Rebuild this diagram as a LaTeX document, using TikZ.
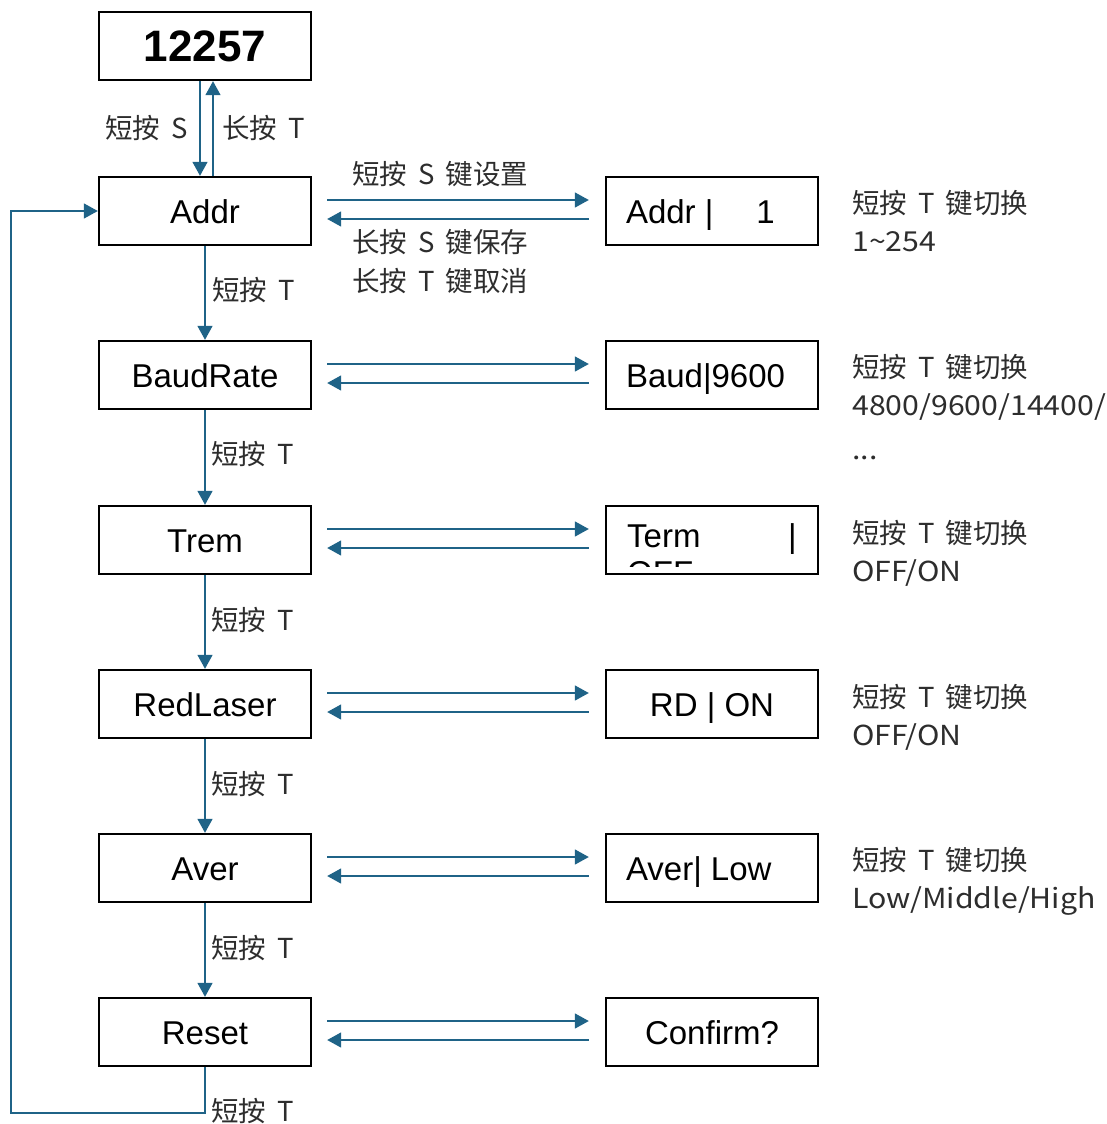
\documentclass[tikz,border=0pt]{standalone}
\usepackage{fontspec}
\setmainfont{Liberation Sans}
\newfontfamily\cjk{Noto Sans CJK SC}[WordSpace=1.8]
\newfontfamily\cjkwide{Noto Sans CJK SC}[FakeStretch=1.1]
\usetikzlibrary{arrows.meta}
\definecolor{flowblue}{RGB}{31,99,135}
\definecolor{labelgray}{RGB}{45,45,45}
\tikzset{
  box/.style={draw=black, line width=2.4pt, minimum width=212pt, minimum height=68pt,
    inner sep=0pt, text height=24pt, text depth=0pt, font=\fontsize{33}{38}\selectfont},
  boxtext/.style={anchor=west, inner sep=0pt, text height=24pt, text depth=0pt,
    font=\fontsize{33}{38}\selectfont},
  flow/.style={draw=flowblue, line width=1.6pt, -{Triangle[length=14pt,width=15pt]}},
  lbl/.style={text=labelgray, font=\cjk\fontsize{27.5}{38}\selectfont, inner sep=0pt},
  note/.style={lbl, anchor=north west, align=left},
}
% second line of an option note, Latin only
\newcommand\optline[1]{{\cjkwide #1}}
\begin{document}
\begin{tikzpicture}[x=1pt,y=-1pt]
\useasboundingbox (0,0) rectangle (1107,1124);

% menu column
\node[box, text height=32pt, font=\fontsize{44}{50}\selectfont\bfseries] (top) at (205,46) {12257};
\node[box] (addr)  at (205,211)  {Addr};
\node[box] (baud)  at (205,375)  {BaudRate};
\node[box] (term)  at (205,540)  {Trem};
\node[box] (laser) at (205,704)  {RedLaser};
\node[box] (aver)  at (205,868)  {Aver};
\node[box] (reset) at (205,1032) {Reset};

% value column
\node[box] (vaddr)  at (712,211)  {};
\node[box] (vbaud)  at (712,375)  {};
\node[box] (vterm)  at (712,540)  {};
\node[box] (vlaser) at (712,704)  {RD | ON};
\node[box] (vaver)  at (712,868)  {};
\node[box] (vreset) at (712,1032) {Confirm?};
\node[boxtext] (taddr) at ([xshift=21pt]vaddr.west) {Addr |\hspace{43pt}1};
\node[boxtext] (tbaud) at ([xshift=21pt]vbaud.west) {Baud|9600};
\node[boxtext] (taver) at ([xshift=21pt]vaver.west) {Aver| Low};

% two-line display text, second line cut off by the frame
\begin{scope}
  \clip (608,508) rectangle (816,566);
  \node[anchor=base west, inner sep=0pt, font=\fontsize{33}{38}\selectfont] (tline) at (627,547) {Term};
  \node[anchor=base west, inner sep=0pt, font=\fontsize{33}{38}\selectfont] (tbar) at (788,547) {|};
  \node[anchor=base west, inner sep=0pt, font=\fontsize{33}{38}\selectfont] (tline2) at (627,584) {OFF};
\end{scope}

% top display <-> Addr
\draw[flow] ([xshift=-5pt]top.south) -- ([xshift=-5pt]addr.north);
\draw[flow] ([xshift=8pt]addr.north) -- ([xshift=8pt]top.south);
\node[lbl, anchor=east] (lshort) at (188,128) {短按 S};
\node[lbl, anchor=west] (llong)  at (222,128) {长按 T};

% stepping down through the menu
\draw[flow] (addr.south)  -- (baud.north);
\draw[flow] (baud.south)  -- (term.north);
\draw[flow] (term.south)  -- (laser.north);
\draw[flow] (laser.south) -- (aver.north);
\draw[flow] (aver.south)  -- (reset.north);
\node[lbl, anchor=west] (s1) at (212,290) {短按 T};
\node[lbl, anchor=west] (s2) at (211,454) {短按 T};
\node[lbl, anchor=west] (s3) at (211,620) {短按 T};
\node[lbl, anchor=west] (s4) at (211,784) {短按 T};
\node[lbl, anchor=west] (s5) at (211,948) {短按 T};

% wrap around from Reset to Addr
\coordinate (loopc) at (11,1113);
\draw[flow] (reset.south) |- (loopc) |- (addr.west);
\node[lbl, anchor=west] (s6) at (211,1111) {短按 T};

% enter / leave each setting
\foreach \a/\b in {addr/vaddr, baud/vbaud, term/vterm, laser/vlaser, aver/vaver, reset/vreset}{
  \draw[flow] ([xshift=15pt,yshift=11pt]\a.east) -- ([xshift=-16pt,yshift=11pt]\b.west);
  \draw[flow] ([xshift=-16pt,yshift=-8pt]\b.west) -- ([xshift=15pt,yshift=-8pt]\a.east);
}
\node[lbl, anchor=west] (kset)  at (352,174) {短按 S 键设置};
\node[lbl, anchor=west] (ksave) at (352,242) {长按 S 键保存};
\node[lbl, anchor=west] (kesc)  at (352,281) {长按 T 键取消};

% option notes
\node[note] (naddr)  at (852,190) {短按 T 键切换\\\optline{1\textasciitilde254}};
\node[note] (nbaud)  at (852,354) {短按 T 键切换\\\optline{4800/9600/14400/}\\[6pt]\optline{...}};
\node[note] (nterm)  at (852,520) {短按 T 键切换\\\optline{OFF/ON}};
\node[note] (nlaser) at (852,684) {短按 T 键切换\\\optline{OFF/ON}};
\node[note] (naver)  at (852,847) {短按 T 键切换\\\optline{Low/Middle/High}};
\end{tikzpicture}
\end{document}
